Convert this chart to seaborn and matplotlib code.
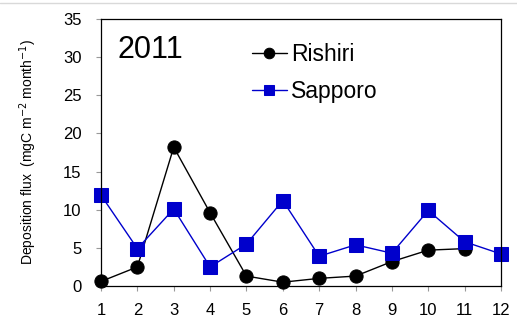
import matplotlib
matplotlib.use("Agg")
import matplotlib.pyplot as plt
import seaborn as sns
import pandas as pd
from matplotlib.lines import Line2D

months = list(range(1, 13))
rishiri_months = list(range(1, 12))
rishiri = [0.6, 2.5, 18.2, 9.6, 1.3, 0.5, 1.0, 1.3, 3.2, 4.7, 4.9]
sapporo = [11.9, 4.9, 10.1, 2.5, 5.5, 11.2, 3.9, 5.4, 4.3, 9.9, 5.8, 4.2]
xticks = list(range(1, 13))
yticks = [0, 5, 10, 15, 20, 25, 30, 35]

sns.set_theme(style="white")
plt.rcParams['font.family'] = ['Liberation Sans', 'DejaVu Sans']
plt.rcParams['text.color'] = 'black'
plt.rcParams['axes.labelcolor'] = 'black'

fig = plt.figure(figsize=(5.17, 3.2), dpi=100)
ax = fig.add_axes([0.1954, 0.10625, 0.7736, 0.8344])

df_r = pd.DataFrame({"month": rishiri_months, "flux": rishiri})
df_s = pd.DataFrame({"month": months, "flux": sapporo})

sns.lineplot(data=df_r, x="month", y="flux", ax=ax, color="black", lw=1.0,
             marker="o", markersize=9.5, markeredgecolor="black", label="Rishiri")
sns.lineplot(data=df_s, x="month", y="flux", ax=ax, color="#0000CC", lw=1.0,
             marker="s", markersize=9.5, markeredgecolor="#0000CC", label="Sapporo")

ax.set_xlim(1, 12)
ax.set_ylim(0, 35)
ax.set_xticks(xticks)
ax.set_yticks(yticks)
ax.tick_params(axis="both", labelsize=12, length=3.6, width=0.8, direction="out",
               color="#999999", labelcolor="black")
ax.tick_params(axis="x", bottom=True, pad=8.5)
ax.tick_params(axis="y", left=True, pad=10.5)
for s in ax.spines.values():
    s.set_color("black")
    s.set_linewidth(0.9)
    s.set_visible(True)
ax.set_xlabel("")
ax.set_ylabel("Deposition flux  (mgC m$^{-2}$ month$^{-1}$)", fontsize=10, labelpad=17)
for line in ax.lines:
    line.set_clip_on(False)

ax.text(0.042, 0.885, "2011", transform=ax.transAxes, fontsize=22, va="center",
        ha="left", color="black")

leg = ax.legend(loc="upper left", bbox_to_anchor=(0.355, 0.945), frameon=False,
                fontsize=16.5, handlelength=1.5, handletextpad=0.2,
                labelspacing=0.6, borderaxespad=0, markerscale=0.8)
for t in leg.get_texts():
    t.set_color("black")

fig.add_artist(Line2D([0, 1], [0.992, 0.992], transform=fig.transFigure,
                      color="#d9d9d9", lw=1))

fig.savefig("out.png", dpi=100)
